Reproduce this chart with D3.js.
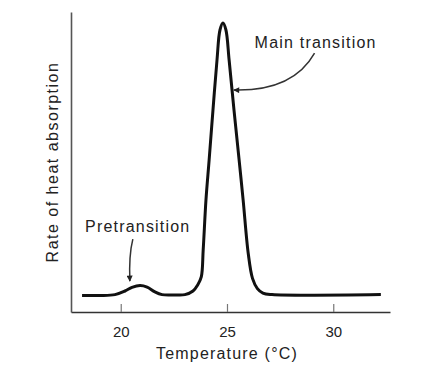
<!DOCTYPE html>
<html>
<head>
<meta charset="utf-8">
<script src="https://cdn.jsdelivr.net/npm/d3@7"></script>
<style>
  body { margin: 0; background: #fff; }
  text { font-family: "Liberation Sans", Arial, sans-serif; fill: #222; }
</style>
</head>
<body>
<div id="chart"></div>
<script>
// thermogram (temperature in °C, rate in arbitrary units)
const temps = [18.18, 19.03, 19.73, 20.2, 20.53, 20.91, 21.24, 21.61, 21.94, 22.55, 23.02,
  23.4, 23.62, 23.79, 23.88, 24.01, 24.16, 24.34, 24.53, 24.67, 24.81, 24.95, 25.1,
  25.33, 25.57, 25.76, 26.0, 26.2, 26.43, 26.69, 27.12, 32.24]
const rates = [5.5, 5.5, 5.8, 7, 8.2, 8.8, 8.3, 6.7, 5.8, 5.7, 5.8,
  7, 9, 11.7, 20.7, 37.3, 50.7, 67.3, 84, 94, 96.3, 94, 84,
  67.3, 50.7, 37.3, 19.5, 11.2, 7.8, 6.3, 5.8, 5.8]
const xTicks = [20, 25, 30]
const xDomain = [17.66, 32.67]
const yDomain = [0, 100]

const width = 436
const height = 366
const margin = { top: 12, right: 46, bottom: 54, left: 71 }

const svg = d3.select('#chart')
  .append('svg')
  .attr('width', width)
  .attr('height', height)

const x = d3.scaleLinear().domain(xDomain).range([margin.left, width - margin.right])
const y = d3.scaleLinear().domain(yDomain).range([height - margin.bottom, margin.top])

// axes
const xAxis = svg.append('g')
  .attr('transform', `translate(0,${height - margin.bottom})`)
  .call(d3.axisBottom(x).tickValues(xTicks).tickSizeInner(-8).tickSizeOuter(0).tickPadding(14))
xAxis.select('.domain').attr('stroke', '#333').attr('stroke-width', 1.6)
xAxis.selectAll('.tick line').attr('stroke', '#777').attr('stroke-width', 1.2)
xAxis.selectAll('.tick text')
  .attr('font-size', 15)
  .attr('font-family', '"Liberation Sans", Arial, sans-serif')
  .attr('fill', '#222')

const yAxis = svg.append('g')
  .attr('transform', `translate(${margin.left},0)`)
  .call(d3.axisLeft(y).ticks(0).tickSizeOuter(0))
yAxis.select('.domain').attr('stroke', '#555').attr('stroke-width', 1.6)

// axis titles
svg.append('text')
  .attr('x', x(25))
  .attr('y', 359)
  .attr('text-anchor', 'middle')
  .attr('font-size', 16)
  .attr('letter-spacing', 1.2)
  .text('Temperature (°C)')

svg.append('text')
  .attr('transform', `translate(58,${y(50)})rotate(-90)`)
  .attr('text-anchor', 'middle')
  .attr('font-size', 16)
  .attr('letter-spacing', 1.5)
  .text('Rate of heat absorption')

// curve
const line = d3.line()
  .x(d => x(d[0]))
  .y(d => y(d[1]))
  .curve(d3.curveCatmullRom.alpha(0.5))

svg.append('path')
  .datum(d3.zip(temps, rates))
  .attr('fill', 'none')
  .attr('stroke', '#111')
  .attr('stroke-width', 3)
  .attr('stroke-linejoin', 'round')
  .attr('d', line)

// annotations
svg.append('defs').append('marker')
  .attr('id', 'arrow')
  .attr('viewBox', '0 0 10 10')
  .attr('refX', 9)
  .attr('refY', 5)
  .attr('markerWidth', 7)
  .attr('markerHeight', 6)
  .attr('orient', 'auto')
  .attr('markerUnits', 'userSpaceOnUse')
  .append('path')
  .attr('d', 'M0,0L10,5L0,10z')
  .attr('fill', '#222')

const arrow = (p0, c, p1) => {
  const p = d3.path()
  p.moveTo(x(p0[0]), y(p0[1]))
  p.quadraticCurveTo(x(c[0]), y(c[1]), x(p1[0]), y(p1[1]))
  svg.append('path')
    .attr('d', p.toString())
    .attr('fill', 'none')
    .attr('stroke', '#333')
    .attr('stroke-width', 1.5)
    .attr('marker-end', 'url(#arrow)')
}

svg.append('text')
  .attr('x', x(26.3))
  .attr('y', 48)
  .attr('font-size', 16)
  .attr('letter-spacing', 1.2)
  .text('Main transition')
arrow([29.12, 86.3], [28.1, 73.5], [25.32, 74])

svg.append('text')
  .attr('x', x(18.32))
  .attr('y', 232)
  .attr('font-size', 16)
  .attr('letter-spacing', 1.2)
  .text('Pretransition')
arrow([20.57, 24.3], [20.38, 19], [20.43, 10.3])
</script>
</body>
</html>
